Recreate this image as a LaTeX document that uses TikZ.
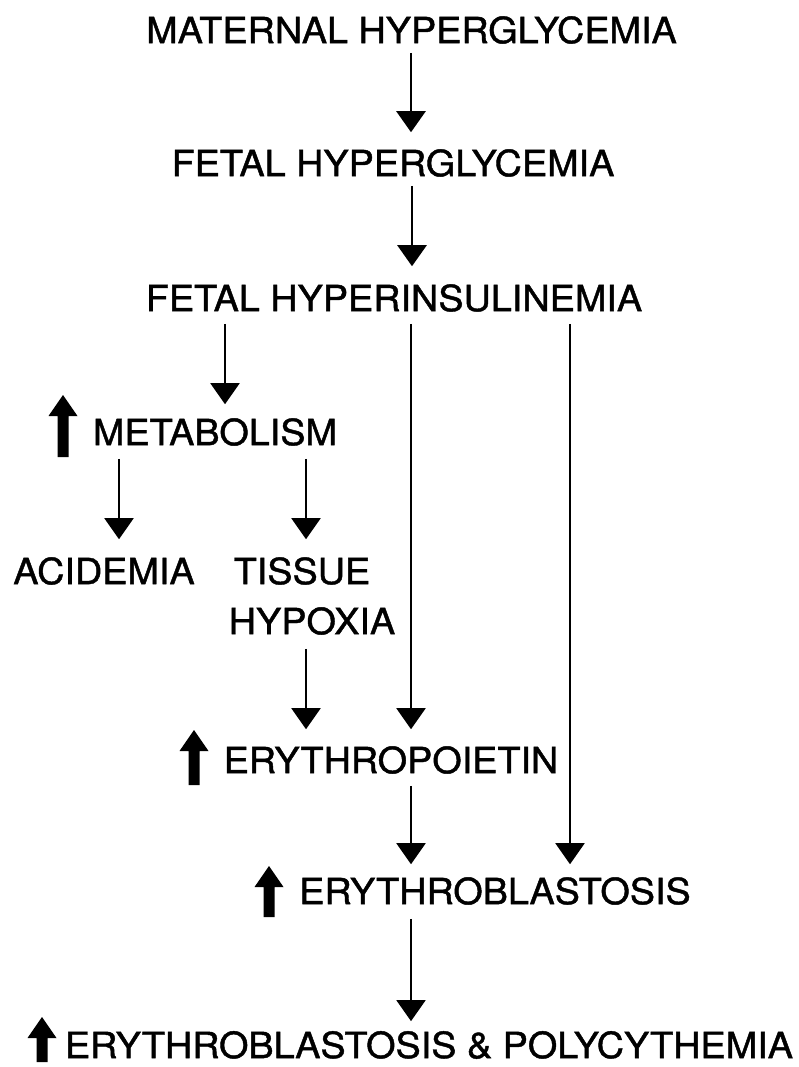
\documentclass[tikz,border=0pt]{standalone}
\usepackage{fontspec}
\setmainfont[FakeStretch=1.05,FakeBold=1.2]{TeX Gyre Heros}
\usetikzlibrary{arrows.meta}
\newcommand{\upglyph}[3]{%
  \fill (#1,#2) -- (#1+14.5,#2+21) -- (#1+5.5,#2+21) -- (#1+5.5,#3) -- (#1-5.5,#3) -- (#1-5.5,#2+21) -- (#1-14.5,#2+21) -- cycle;}
\begin{document}
\begin{tikzpicture}[x=1pt,y=-1pt,
  lbl/.style={inner sep=0pt,outer sep=0pt,font=\fontsize{36}{40}\selectfont},
  arr/.style={line width=2pt,-{Triangle[width=29pt,length=21pt]},shorten <=12pt,shorten >=16pt}]
\useasboundingbox (0,0) rectangle (798,1067);
\node[lbl] (mat) at (411.5,30) {MATERNAL HYPERGLYCEMIA};
\node[lbl] (fhg) at (393,163) {FETAL HYPERGLYCEMIA};
\node[lbl] (fhi) at (394,298) {FETAL HYPERINSULINEMIA};
\node[lbl] (met) at (215,432) {METABOLISM};
\node[lbl] (aci) at (104,571) {ACIDEMIA};
\node[lbl] (tis) at (302,571) {TISSUE};
\node[lbl] (hyp) at (312,621) {HYPOXIA};
\node[lbl] (ery) at (391,760) {ERYTHROPOIETIN};
\node[lbl] (ebl) at (495,891) {ERYTHROBLASTOSIS};
\node[lbl] (ep) at (429,1045) {ERYTHROBLASTOSIS \& POLYCYTHEMIA};
% up arrows
\upglyph{63}{395}{457}
\upglyph{194}{730}{785}
\upglyph{269}{866}{917}
\upglyph{42}{1017}{1062}
% connectors
\draw[arr,line width=2.5pt,shorten <=9pt,shorten >=17pt] (mat.south -| 411,0) -- (fhg.north -| 411,0);
\draw[arr,line width=2.5pt,shorten <=9pt,shorten >=18pt] (fhg.south -| 412,0) -- (fhi.north -| 412,0);
\draw[arr,shorten >=14pt] (fhi.south -| 225,0) -- (met.north -| 225,0);
\draw[arr,shorten >=17pt] (fhi.south -| 411,0) -- (ery.north -| 411,0);
\draw[arr,shorten >=13pt] (fhi.south -| 570,0) -- (ebl.north -| 570,0);
\draw[arr,shorten <=13pt,shorten >=18pt] (met.south -| 119,0) -- (aci.north -| 119,0);
\draw[arr,shorten <=13pt,shorten >=18pt] (met.south -| 306,0) -- (tis.north -| 306,0);
\draw[arr,shorten <=14pt,shorten >=17pt] (hyp.south -| 306,0) -- (ery.north -| 306,0);
\draw[arr,shorten >=13pt] (ery.south -| 411,0) -- (ebl.north -| 411,0);
\draw[arr,shorten <=14pt,shorten >=10pt] (ebl.south -| 411,0) -- (ep.north -| 411,0);
\end{tikzpicture}
\end{document}
